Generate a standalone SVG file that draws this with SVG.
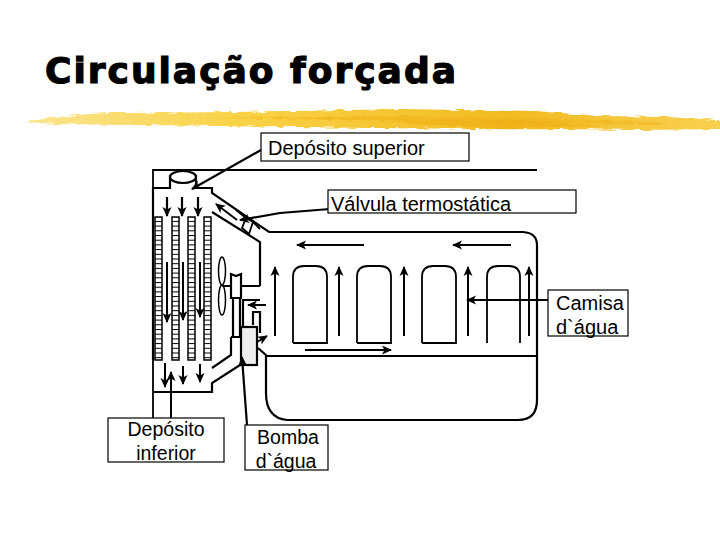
<svg xmlns="http://www.w3.org/2000/svg" width="720" height="540" viewBox="0 0 720 540">
<style>
.t{font-family:"Liberation Sans",Arial,sans-serif;font-size:20px;fill:#000}
.s{font-size:19.500px}
.c{text-anchor:middle}
.b{fill:#fff;stroke:#000;stroke-width:1.2}
.l{fill:none;stroke:#000;stroke-width:2.2}
.m{fill:none;stroke:#000;stroke-width:1.8}
.a{fill:none;stroke:#000;stroke-width:2.2;marker-end:url(#h)}
.k{fill:none;stroke:#000;stroke-width:2;marker-end:url(#h)}
</style>
<defs>
<marker id="h" markerUnits="userSpaceOnUse" markerWidth="12" markerHeight="10" refX="9" refY="5" orient="auto"><path d="M0 .5L10 5L0 9.500L2.500 5Z"/></marker>
<pattern id="r" width="7" height="4.700" patternUnits="userSpaceOnUse"><rect width="7" height="4.700" fill="#fff"/><path d="M0 0H7" stroke="#000" stroke-width="2"/></pattern>
<linearGradient id="g" x1="0" x2="1"><stop offset="0" stop-color="#fbe590"/><stop offset=".3" stop-color="#f9d347"/><stop offset=".7" stop-color="#f3bb22"/><stop offset="1" stop-color="#f8d050"/></linearGradient>
<filter id="n" x="-2%" y="-30%" width="104%" height="160%"><feTurbulence type="fractalNoise" baseFrequency=".09 .5" numOctaves="2" seed="4"/><feDisplacementMap in="SourceGraphic" scale="5" xChannelSelector="R" yChannelSelector="G"/></filter>
</defs>
<text x="45" y="83" font-family="'DejaVu Sans',sans-serif" font-size="36" font-weight="700" stroke="#000" stroke-width="1.200" textLength="411" lengthAdjust="spacing">Circulação forçada</text>
<g id="swoosh" filter="url(#n)"><path d="M26 122C50 117 80 114 110 113L235 112C290 111 350 110 400 109L535 111L600 116L665 117L720 120V129L640 130L560 129C480 130 420 128 370 128L215 126C150 125 90 125 55 124Z" fill="url(#g)"/>
<path d="M210 118L400 116L540 118L680 124L540 123L400 121Z" fill="#f0b31a" opacity=".6"/><path d="M380 122L520 120L600 126L500 128Z" fill="#eeae14" opacity=".6"/></g>
<g id="engine">
<path class="m" d="M153 418V170H537"/>
<path class="l" d="M153 360V188H170V175M196 175V188H212V193L269 232H523Q537 233 537 245V400Q537 420 518 420H287Q266 418 266 393V356"/>
<ellipse cx="183" cy="177" rx="13" ry="6" fill="#fff" stroke="#000" stroke-width="2.200"/>
<path class="l" d="M212 212L260 242V286M153 392H212V383L240 365M212 368L231 355V337M258 348L267 356H537"/>
<path class="m" d="M246 218L253 222L249 234L242 228Z"/><path class="m" d="M253 222L260 229M236 210L246 218"/>
<g id="tubes"><rect x="155" y="217" width="7" height="143" fill="url(#r)" stroke="#000" stroke-width="1.500"/><rect x="172" y="217" width="7" height="143" fill="url(#r)" stroke="#000" stroke-width="1.500"/><rect x="188" y="217" width="7" height="143" fill="url(#r)" stroke="#000" stroke-width="1.500"/><rect x="204" y="217" width="7" height="143" fill="url(#r)" stroke="#000" stroke-width="1.500"/></g>
<path class="m" d="M293 343V277Q293 266 304 266H316Q327 266 327 277V343H293M357 343V277Q357 266 368 266H380Q391 266 391 277V343H357M422 343V277Q422 266 433 266H445Q456 266 456 277V343H422M487 343V277Q487 266 498 266H509Q520 266 520 277V343"/>
<ellipse cx="222" cy="271" rx="3.500" ry="14" fill="none" stroke="#000" stroke-width="1.500"/><ellipse cx="222" cy="300" rx="3.500" ry="15" fill="none" stroke="#000" stroke-width="1.500"/>
<path class="l" d="M222 286H231M241 286H260M231 274V298H241V274L236 276ZM233 298V337H240V298M231 337H241M243 327V300H260M253 325V312H260V333"/>
</g>
<g id="pump"><rect x="241" y="327" width="16" height="38" fill="#eee" stroke="#000" stroke-width="2.200"/></g>
<g id="connectors">
<path class="a" d="M167 197V216"/><path class="a" d="M182 197V216"/><path class="a" d="M198 197V216"/>
<path class="k" d="M167 262V322"/><path class="k" d="M183 262V320"/><path class="k" d="M200 262V317"/>
<path class="k" d="M165 363V387"/><path class="k" d="M183 366V384"/><path class="k" d="M200 364V382"/>
<path class="k" d="M237 220L216 204" stroke-width="1.500"/>
<path class="k" d="M275 336V267"/><path class="k" d="M339 336V267"/><path class="k" d="M404 336V267"/><path class="k" d="M468 336V267"/><path class="k" d="M529 336V267"/>
<path class="k" d="M364 245H297"/><path class="k" d="M511 245H453"/><path class="k" d="M305 350H391"/>
<path class="k" d="M266 305H248"/><path class="k" d="M257 342L267 336"/>
<path class="a" d="M548 300H467"/><path class="a" d="M261 150L192 189"/><path class="a" d="M330 209L280 213L240 220"/>
<path class="k" d="M171 418V372" stroke-width="1.500"/><path class="a" d="M247 425L242 357"/>
</g>
<g id="n1"><rect class="b" x="261" y="133" width="208" height="28"/><text class="t" x="268" y="155">Depósito superior</text></g>
<g id="n2"><rect class="b" x="328" y="190" width="248" height="23"/><text class="t" x="331" y="211">Válvula termostática</text></g>
<g id="n3"><rect class="b" x="548" y="290" width="80" height="46"/><text class="t" x="556" y="310">Camisa</text><text class="t" x="556" y="334">d`água</text></g>
<g id="n4"><rect class="b" x="108" y="418" width="116" height="44"/><text class="t s c" x="166" y="436">Depósito</text><text class="t s c" x="166" y="460">inferior</text></g>
<g id="n5"><rect class="b" x="245" y="425" width="83" height="45"/><text class="t s c" x="288" y="444">Bomba</text><text class="t s c" x="286" y="468">d`água</text></g>
</svg>
